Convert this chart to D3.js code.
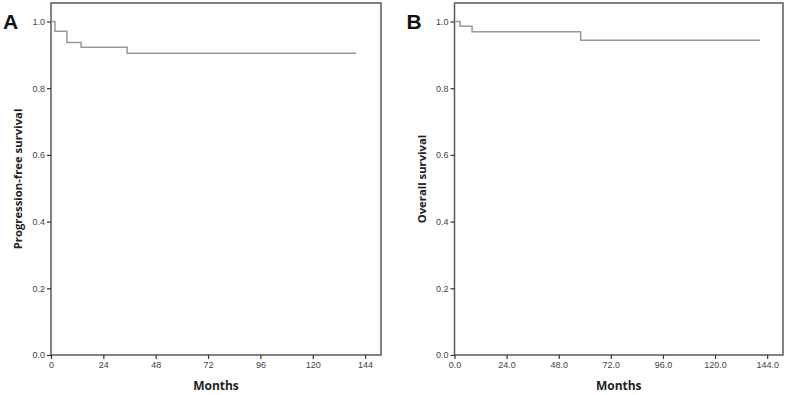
<!DOCTYPE html>
<html>
<head>
<meta charset="utf-8">
<script src="https://cdn.jsdelivr.net/npm/d3@7"></script>
<style>
  body { margin: 0; background: #fff; }
  svg { display: block; font-family: "Open Sans", "Liberation Sans", sans-serif; }
</style>
</head>
<body>
<svg id="chart" width="787" height="395"></svg>
<script>
// Kaplan-Meier step data
const pfsMonths = [0, 1.8, 7.3, 13.8, 34.9, 140];
const pfsSurv   = [1.0, 0.971, 0.937, 0.923, 0.905, 0.905];
const osMonths  = [0, 2.6, 8.1, 58.1, 140.7];
const osSurv    = [1.0, 0.986, 0.969, 0.944, 0.944];

const xTicks = [0, 24, 48, 72, 96, 120, 144];
const yTicks = [0, 0.2, 0.4, 0.6, 0.8, 1.0];

const svg = d3.select("#chart");

function panel(opts) {
  const {left, right, top, bottom, months, surv, letter, ylabel, xfmt} = opts;

  const x = d3.scaleLinear().domain([0, 151.3]).range([left, right]);
  const y = d3.scaleLinear().domain([0, 1.0555]).range([bottom, top]);

  const g = svg.append("g");

  // frame
  g.append("rect")
    .attr("x", left).attr("y", top)
    .attr("width", right - left).attr("height", bottom - top)
    .attr("fill", "none")
    .attr("stroke", "#5a5a5a")
    .attr("stroke-width", 1.5);

  // axes
  const xa = g.append("g")
    .attr("transform", `translate(0,${bottom})`)
    .call(d3.axisBottom(x).tickValues(xTicks).tickSize(4).tickSizeOuter(0).tickPadding(3).tickFormat(xfmt));
  const ya = g.append("g")
    .attr("transform", `translate(${left},0)`)
    .call(d3.axisLeft(y).tickValues(yTicks).tickSize(4).tickSizeOuter(0).tickPadding(2).tickFormat(d3.format(".1f")));
  [xa, ya].forEach(a => {
    a.select(".domain").remove();
    a.selectAll("line").attr("stroke", "#333").attr("stroke-width", 1.2);
    a.selectAll("text").attr("fill", "#444").style("font-size", "9px").style("font-family", "Liberation Sans, sans-serif");
  });

  // survival curve
  const pts = months.map((m, i) => [m, surv[i]]);
  g.append("path")
    .datum(pts)
    .attr("fill", "none")
    .attr("stroke", "#999")
    .attr("stroke-width", 1.5)
    .attr("d", d3.line().x(d => x(d[0])).y(d => y(d[1])).curve(d3.curveStepAfter));

  // axis titles
  g.append("text")
    .attr("x", (left + right) / 2).attr("y", 390)
    .attr("text-anchor", "middle")
    .attr("font-weight", "bold").attr("font-size", 12).attr("fill", "#222")
    .text("Months");
  g.append("text")
    .attr("transform", `translate(${left - 29},${(top + bottom) / 2}) rotate(-90)`)
    .attr("text-anchor", "middle")
    .attr("font-weight", "bold").attr("font-size", 11.3).attr("fill", "#222")
    .text(ylabel);

  // panel letter
  g.append("text")
    .attr("x", left - 48).attr("y", 29)
    .attr("font-weight", "bold").attr("font-size", 21).attr("fill", "#111")
    .style("font-family", "Liberation Sans, sans-serif")
    .text(letter);
}

panel({left: 51, right: 381, top: 3, bottom: 355, months: pfsMonths, surv: pfsSurv,
       letter: "A", ylabel: "Progression-free survival", xfmt: d3.format("d")});
panel({left: 454.5, right: 783, top: 3, bottom: 355, months: osMonths, surv: osSurv,
       letter: "B", ylabel: "Overall survival", xfmt: d3.format(".1f")});
</script>
</body>
</html>
